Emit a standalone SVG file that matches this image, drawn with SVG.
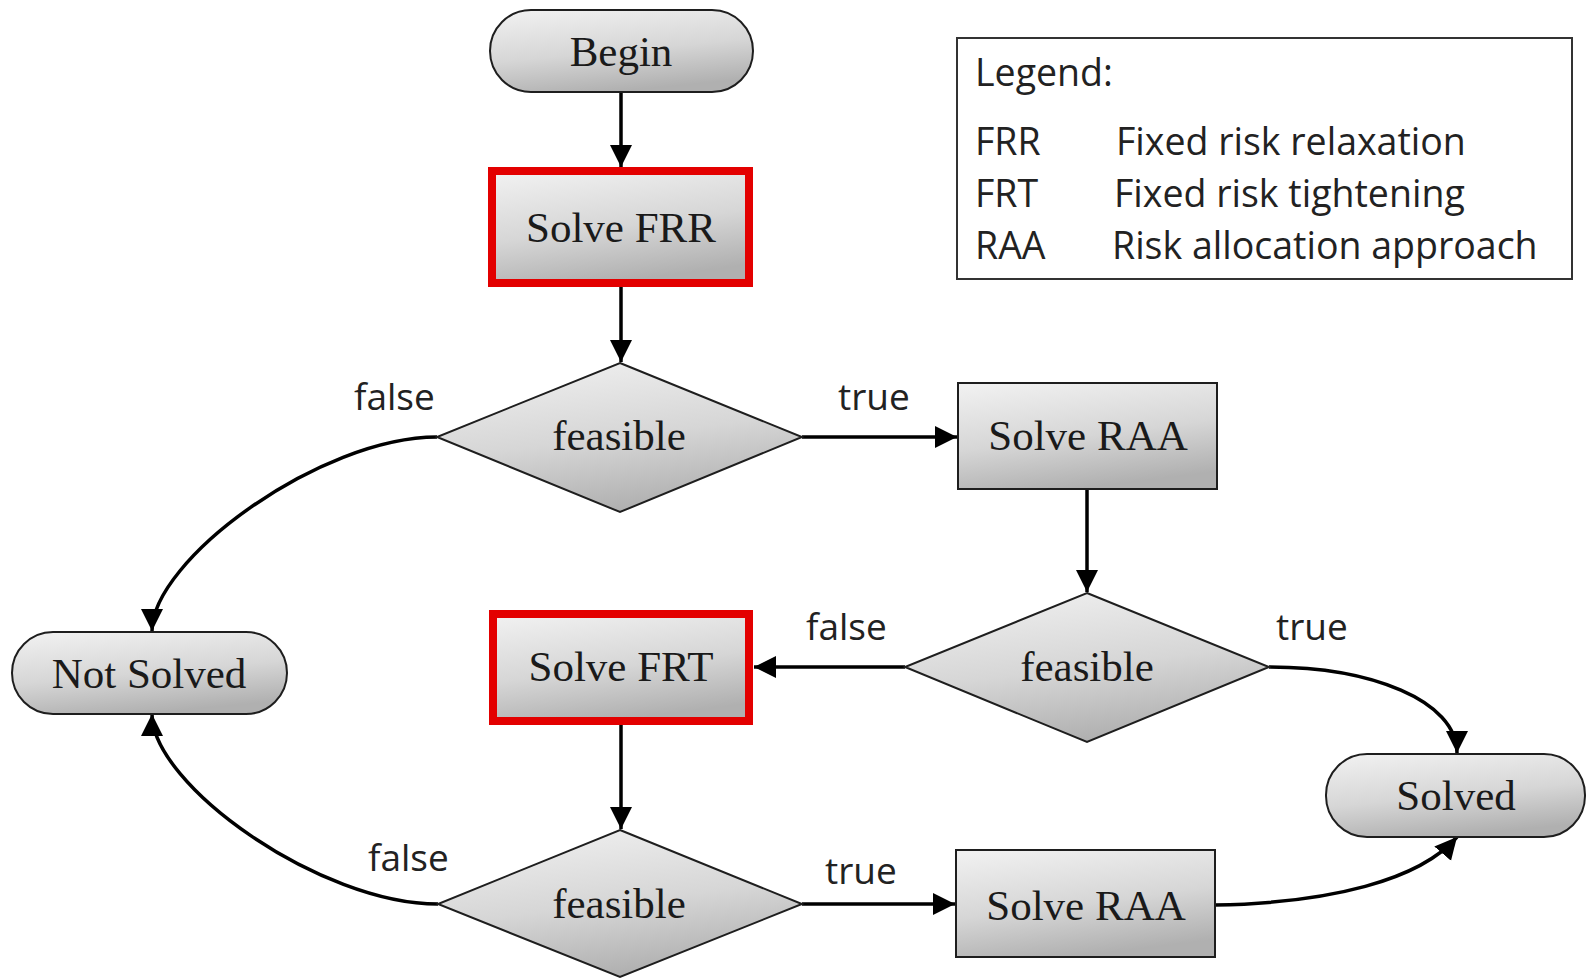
<svg xmlns="http://www.w3.org/2000/svg" width="1588" height="979" viewBox="0 0 1588 979">
  <defs>
    <linearGradient id="shade" x1="0.15" y1="0" x2="0.45" y2="1">
      <stop offset="0" stop-color="#f0f0f0"/>
      <stop offset="0.55" stop-color="#d6d6d6"/>
      <stop offset="1" stop-color="#b0b0b0"/>
    </linearGradient>
    <marker id="arrow" markerUnits="userSpaceOnUse" markerWidth="24" markerHeight="24" refX="22" refY="11" orient="auto" viewBox="0 0 24 22">
      <path d="M0,0 L22,11 L0,22 Z" fill="#000"/>
    </marker>
  </defs>
  <style>
    .node { fill: url(#shade); stroke: #1e1e1e; stroke-width: 2; }
    .hl { fill: url(#shade); stroke: #e30000; stroke-width: 8; }
    .lbl { font-family: "Liberation Serif", "Times New Roman", serif; font-size: 43px; fill: #1a1a1a; text-anchor: middle; }
    .edge { fill: none; stroke: #000; stroke-width: 3.5; marker-end: url(#arrow); }
    .cond { font-family: "Open Sans", "Liberation Sans", sans-serif; font-size: 37px; fill: #222; }
    .leg { font-family: "Open Sans", "Liberation Sans", sans-serif; font-size: 37.5px; fill: #222; }
  </style>
  <rect width="1588" height="979" fill="#fff"/>

  <g id="connectors">
    <path class="edge" d="M621,92 L621,167"/>
    <path class="edge" d="M621,287 L621,362"/>
    <path class="edge" d="M802,437 L957,437"/>
    <path class="edge" d="M1087,489 L1087,592"/>
    <path class="edge" d="M905,667 L754,667"/>
    <path class="edge" d="M621,725 L621,829"/>
    <path class="edge" d="M802,904 L955,904"/>
    <path class="edge" d="M437,437 C320,437 152,560 152,631"/>
    <path class="edge" d="M438,904 C320,904 152,785 152,714"/>
    <path class="edge" d="M1269,667 C1370,667 1457,700 1457,753"/>
    <path class="edge" d="M1215,905 C1330,903 1420,880 1457,837"/>
  </g>

  <g id="edge-labels">
    <text class="cond" x="354" y="410">false</text>
    <text class="cond" x="838" y="410">true</text>
    <text class="cond" x="806" y="640">false</text>
    <text class="cond" x="1276" y="640">true</text>
    <text class="cond" x="368" y="871">false</text>
    <text class="cond" x="825" y="884">true</text>
  </g>

  <g id="begin">
    <rect class="node" x="490" y="10" width="263" height="82" rx="41" ry="41"/>
    <text class="lbl" x="621" y="66">Begin</text>
  </g>

  <g id="solve-frr">
    <rect class="hl" x="492" y="171" width="257" height="112"/>
    <text class="lbl" x="621" y="242">Solve FRR</text>
  </g>

  <g id="feasible-1">
    <polygon class="node" points="620,363 802,437 620,512 437,437"/>
    <text class="lbl" x="619" y="450">feasible</text>
  </g>

  <g id="solve-raa-1">
    <rect class="node" x="958" y="383" width="259" height="106"/>
    <text class="lbl" x="1088" y="450">Solve RAA</text>
  </g>

  <g id="feasible-2">
    <polygon class="node" points="1087,593 1269,667 1087,742 905,667"/>
    <text class="lbl" x="1087" y="681">feasible</text>
  </g>

  <g id="solve-frt">
    <rect class="hl" x="493" y="614" width="256" height="107"/>
    <text class="lbl" x="621" y="681">Solve FRT</text>
  </g>

  <g id="not-solved">
    <rect class="node" x="12" y="632" width="275" height="82" rx="41" ry="41"/>
    <text class="lbl" x="149" y="688">Not Solved</text>
  </g>

  <g id="solved">
    <rect class="node" x="1326" y="754" width="259" height="83" rx="41" ry="41"/>
    <text class="lbl" x="1456" y="810">Solved</text>
  </g>

  <g id="feasible-3">
    <polygon class="node" points="620,830 802,904 620,977 438,904"/>
    <text class="lbl" x="619" y="918">feasible</text>
  </g>

  <g id="solve-raa-2">
    <rect class="node" x="956" y="850" width="259" height="107"/>
    <text class="lbl" x="1086" y="920">Solve RAA</text>
  </g>

  <g id="legend">
    <rect x="957" y="38" width="615" height="241" fill="#fff" stroke="#333" stroke-width="2"/>
    <text class="leg" x="975" y="86">Legend:</text>
    <text class="leg" x="975" y="155">FRR</text>
    <text class="leg" x="1116" y="155">Fixed risk relaxation</text>
    <text class="leg" x="975" y="207">FRT</text>
    <text class="leg" x="1114" y="207">Fixed risk tightening</text>
    <text class="leg" x="975" y="259">RAA</text>
    <text class="leg" x="1112" y="259">Risk allocation approach</text>
  </g>
</svg>
